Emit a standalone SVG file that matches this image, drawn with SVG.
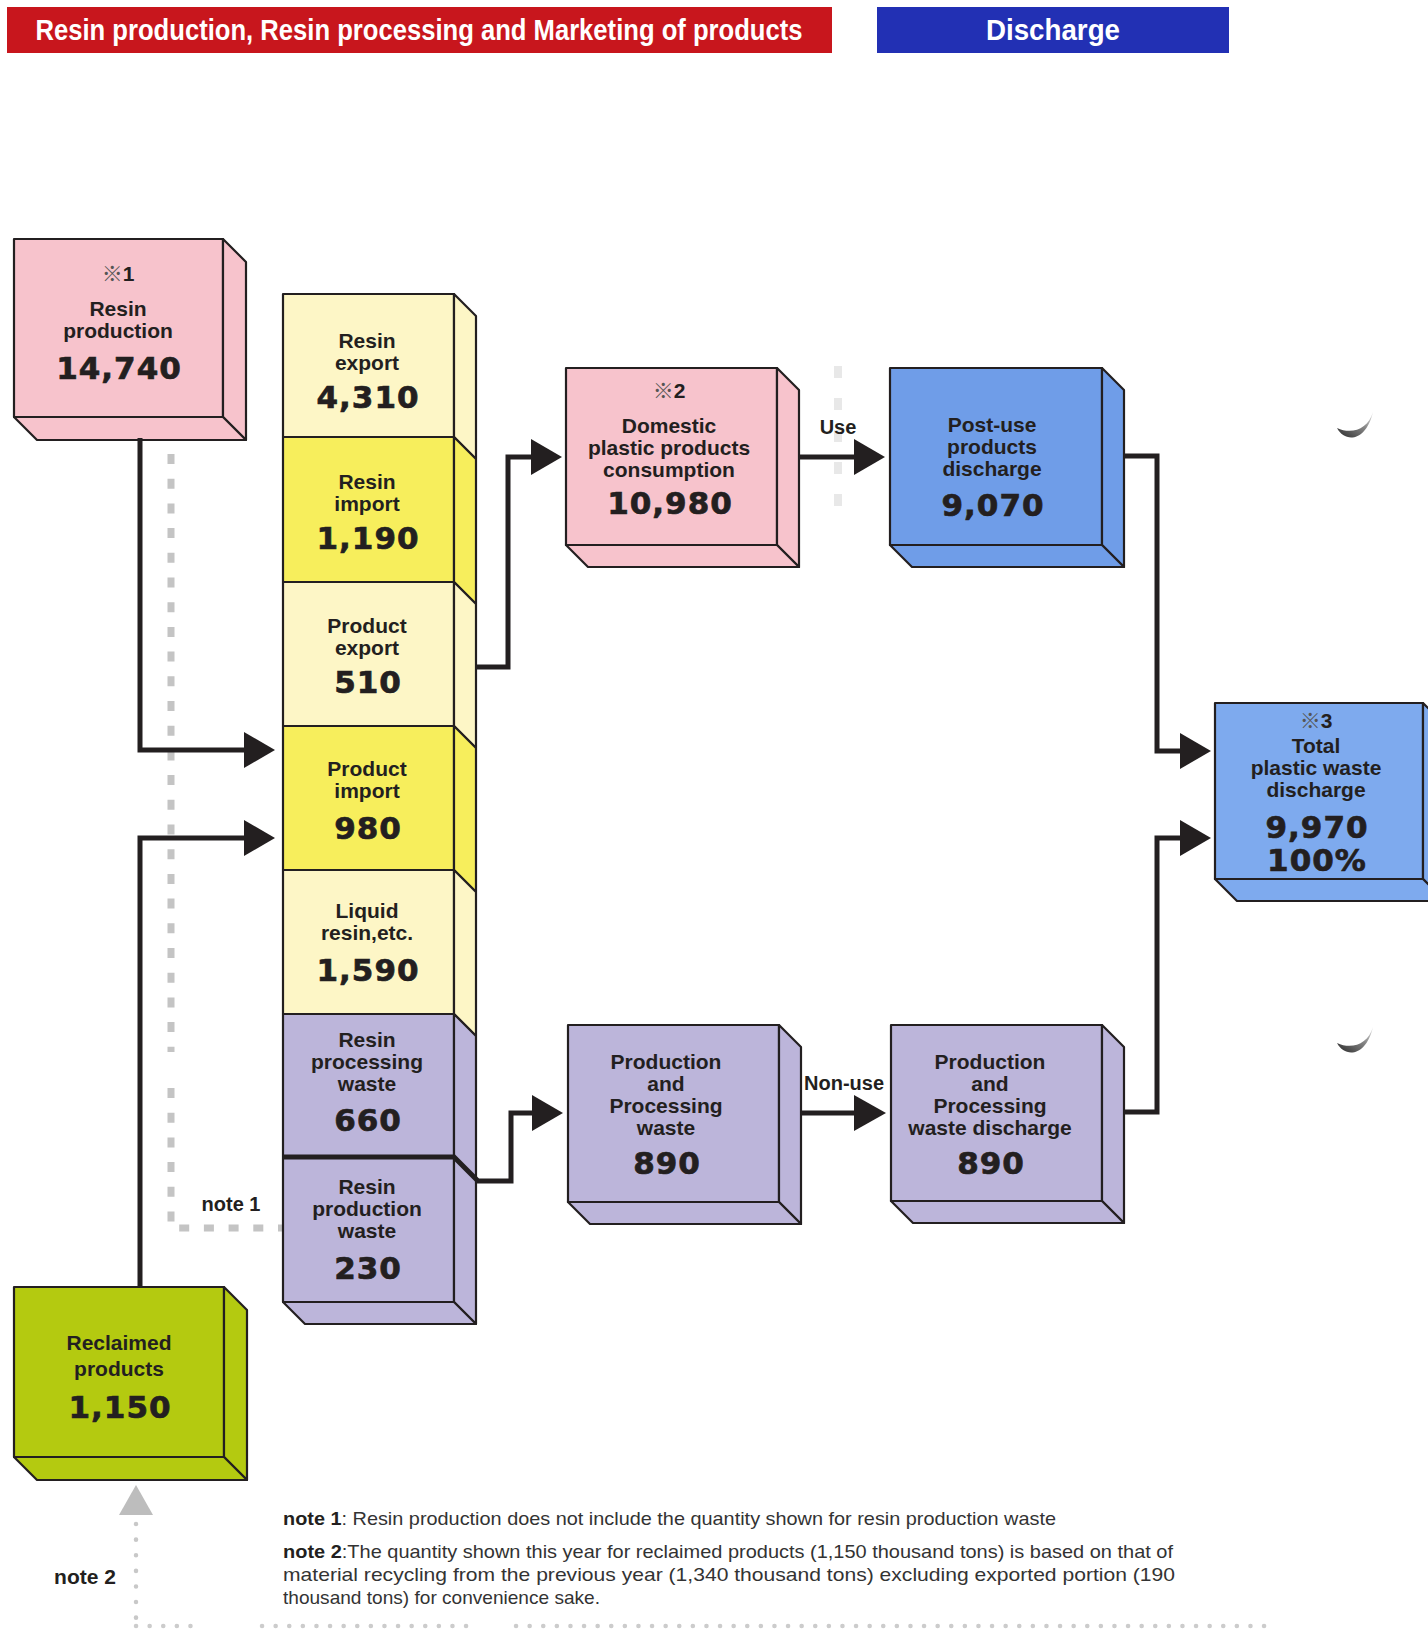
<svg xmlns="http://www.w3.org/2000/svg" width="1428" height="1631" viewBox="0 0 1428 1631">
<defs>
<style>
.hdr{font-family:"Liberation Sans",Arial,sans-serif;font-weight:700;font-size:30px;fill:#ffffff;text-anchor:middle}
.lbl{font-family:"Liberation Sans",Arial,sans-serif;font-weight:700;font-size:21px;fill:#231f20;text-anchor:middle}
.num{font-family:"DejaVu Sans",sans-serif;font-weight:700;font-size:31px;fill:#231f20;stroke:#231f20;stroke-width:0.7;letter-spacing:1px;text-anchor:middle}
.mk{font-family:"Noto Sans CJK JP",sans-serif;font-weight:400;fill:#555}
.face{stroke:#231f20;stroke-width:2.2;stroke-linejoin:round}
.pink{fill:#f7c3cc}
.pale{fill:#fdf6c6}
.yel{fill:#f7ee5c}
.lav{fill:#bcb5da}
.blue1{fill:#6f9de8}
.blue2{fill:#7eaaee}
.green{fill:#b4ca10}
.conn{fill:none;stroke:#231f20;stroke-width:5;stroke-linejoin:miter}
.head{fill:#231f20}
.flow{font-family:"Liberation Sans",Arial,sans-serif;font-weight:700;font-size:20px;fill:#231f20;text-anchor:middle}
.note{font-family:"Liberation Sans",Arial,sans-serif;font-size:19px;fill:#333}
.nb{font-weight:700;fill:#231f20}
</style>
<linearGradient id="moon" x1="0" y1="1" x2="1" y2="0">
<stop offset="0" stop-color="#2a2a2a"/>
<stop offset="0.6" stop-color="#8a8a8a"/>
<stop offset="1" stop-color="#e6e6e6"/>
</linearGradient>
</defs>

<!-- Headers -->
<g id="header-left">
<rect x="7" y="7" width="825" height="46" fill="#c8161d"/>
<text class="hdr" x="419" y="40" textLength="767" lengthAdjust="spacingAndGlyphs">Resin production, Resin processing and Marketing of products</text>
</g>
<g id="header-right">
<rect x="877" y="7" width="352" height="46" fill="#2230b4"/>
<text class="hdr" x="1053" y="40" textLength="134" lengthAdjust="spacingAndGlyphs">Discharge</text>
</g>

<!-- background guide lines -->
<g id="guides">
<path d="M171,454 V1052 M171,1088 V1228 H283" fill="none" stroke="#c4c4c4" stroke-width="7" stroke-dasharray="10 14.7"/>
<path d="M838,366 V526" fill="none" stroke="#e8e8e8" stroke-width="8" stroke-dasharray="12 20"/>
<path d="M136,1524 V1622" fill="none" stroke="#c8c8c8" stroke-width="4.5" stroke-linecap="round" stroke-dasharray="0.1 15.5"/>
<path d="M136,1626 H192 M262,1626 H478 M516,1626 H1271" fill="none" stroke="#cccccc" stroke-width="4.5" stroke-linecap="round" stroke-dasharray="0.1 13.5"/>
<polygon points="136,1485 119,1515 153,1515" fill="#bdbdbd"/>
<path d="M1337,428 C1345,443 1366,442 1373,412 C1368,429 1352,435 1337,428 Z" fill="url(#moon)"/>
<path d="M1337,1043 C1345,1058 1366,1057 1373,1027 C1368,1044 1352,1050 1337,1043 Z" fill="url(#moon)"/>
</g>

<!-- Nodes -->
<g id="resin-production">
<rect class="face pink" x="14" y="239" width="209" height="178"/>
<polygon class="face pink" points="223,239 246,262 246,440 223,417"/>
<polygon class="face pink" points="14,417 223,417 246,440 37,440"/>
<text class="lbl" x="118" y="281"><tspan class="mk">※</tspan>1</text>
<text class="lbl" x="118" y="316">Resin</text>
<text class="lbl" x="118" y="338">production</text>
<text class="num" x="119" y="379">14,740</text>
</g>

<g id="resin-export">
<rect class="face pale" x="283" y="294" width="171" height="143"/>
<polygon class="face pale" points="454,294 476,316 476,459 454,437"/>
<text class="lbl" x="367" y="348">Resin</text>
<text class="lbl" x="367" y="370">export</text>
<text class="num" x="368" y="408">4,310</text>
</g>
<g id="resin-import">
<rect class="face yel" x="283" y="437" width="171" height="145"/>
<polygon class="face yel" points="454,437 476,459 476,604 454,582"/>
<text class="lbl" x="367" y="489">Resin</text>
<text class="lbl" x="367" y="511">import</text>
<text class="num" x="368" y="549">1,190</text>
</g>
<g id="product-export">
<rect class="face pale" x="283" y="582" width="171" height="144"/>
<polygon class="face pale" points="454,582 476,604 476,748 454,726"/>
<text class="lbl" x="367" y="633">Product</text>
<text class="lbl" x="367" y="655">export</text>
<text class="num" x="368" y="693">510</text>
</g>
<g id="product-import">
<rect class="face yel" x="283" y="726" width="171" height="144"/>
<polygon class="face yel" points="454,726 476,748 476,892 454,870"/>
<text class="lbl" x="367" y="776">Product</text>
<text class="lbl" x="367" y="798">import</text>
<text class="num" x="368" y="839">980</text>
</g>
<g id="liquid-resin">
<rect class="face pale" x="283" y="870" width="171" height="144"/>
<polygon class="face pale" points="454,870 476,892 476,1036 454,1014"/>
<text class="lbl" x="367" y="918">Liquid</text>
<text class="lbl" x="367" y="940">resin,etc.</text>
<text class="num" x="368" y="981">1,590</text>
</g>
<g id="resin-processing-waste">
<rect class="face lav" x="283" y="1014" width="171" height="143"/>
<polygon class="face lav" points="454,1014 476,1036 476,1179 454,1157"/>
<text class="lbl" x="367" y="1047">Resin</text>
<text class="lbl" x="367" y="1069">processing</text>
<text class="lbl" x="367" y="1091">waste</text>
<text class="num" x="368" y="1131">660</text>
</g>
<g id="resin-production-waste">
<rect class="face lav" x="283" y="1157" width="171" height="145"/>
<polygon class="face lav" points="454,1157 476,1179 476,1324 454,1302"/>
<polygon class="face lav" points="283,1302 454,1302 476,1324 305,1324"/>
<text class="lbl" x="367" y="1194">Resin</text>
<text class="lbl" x="367" y="1216">production</text>
<text class="lbl" x="367" y="1238">waste</text>
<text class="num" x="368" y="1279">230</text>
</g>

<g id="domestic-consumption">
<rect class="face pink" x="566" y="368" width="211" height="177"/>
<polygon class="face pink" points="777,368 799,390 799,567 777,545"/>
<polygon class="face pink" points="566,545 777,545 799,567 588,567"/>
<text class="lbl" x="669" y="398"><tspan class="mk">※</tspan>2</text>
<text class="lbl" x="669" y="433">Domestic</text>
<text class="lbl" x="669" y="455">plastic products</text>
<text class="lbl" x="669" y="477">consumption</text>
<text class="num" x="670" y="514">10,980</text>
</g>

<g id="post-use-discharge">
<rect class="face blue1" x="890" y="368" width="212" height="177"/>
<polygon class="face blue1" points="1102,368 1124,390 1124,567 1102,545"/>
<polygon class="face blue1" points="890,545 1102,545 1124,567 912,567"/>
<text class="lbl" x="992" y="432">Post-use</text>
<text class="lbl" x="992" y="454">products</text>
<text class="lbl" x="992" y="476">discharge</text>
<text class="num" x="993" y="516">9,070</text>
</g>

<g id="total-discharge">
<rect class="face blue2" x="1215" y="703" width="208" height="176"/>
<polygon class="face blue2" points="1423,703 1445,725 1445,901 1423,879"/>
<polygon class="face blue2" points="1215,879 1423,879 1445,901 1237,901"/>
<text class="lbl" x="1316" y="728"><tspan class="mk">※</tspan>3</text>
<text class="lbl" x="1316" y="753">Total</text>
<text class="lbl" x="1316" y="775">plastic waste</text>
<text class="lbl" x="1316" y="797">discharge</text>
<text class="num" x="1317" y="838">9,970</text>
<text class="num" x="1317" y="871">100%</text>
</g>

<g id="pp-waste">
<rect class="face lav" x="568" y="1025" width="211" height="177"/>
<polygon class="face lav" points="779,1025 801,1047 801,1224 779,1202"/>
<polygon class="face lav" points="568,1202 779,1202 801,1224 590,1224"/>
<text class="lbl" x="666" y="1069">Production</text>
<text class="lbl" x="666" y="1091">and</text>
<text class="lbl" x="666" y="1113">Processing</text>
<text class="lbl" x="666" y="1135">waste</text>
<text class="num" x="667" y="1174">890</text>
</g>

<g id="pp-waste-discharge">
<rect class="face lav" x="891" y="1025" width="211" height="176"/>
<polygon class="face lav" points="1102,1025 1124,1047 1124,1223 1102,1201"/>
<polygon class="face lav" points="891,1201 1102,1201 1124,1223 913,1223"/>
<text class="lbl" x="990" y="1069">Production</text>
<text class="lbl" x="990" y="1091">and</text>
<text class="lbl" x="990" y="1113">Processing</text>
<text class="lbl" x="990" y="1135">waste discharge</text>
<text class="num" x="991" y="1174">890</text>
</g>

<g id="reclaimed-products">
<rect class="face green" x="14" y="1287" width="210" height="170"/>
<polygon class="face green" points="224,1287 247,1310 247,1480 224,1457"/>
<polygon class="face green" points="14,1457 224,1457 247,1480 37,1480"/>
<text class="lbl" x="119" y="1350">Reclaimed</text>
<text class="lbl" x="119" y="1376">products</text>
<text class="num" x="120" y="1418">1,150</text>
</g>

<!-- Connectors -->
<g id="connectors">
<path class="conn" d="M140,438 V750 H247"/>
<polygon class="head" points="244,732 275,750 244,768"/>
<path class="conn" d="M140,1287 V838 H247"/>
<polygon class="head" points="244,820 275,838 244,856"/>
<path class="conn" d="M476,667 H508 V457 H534"/>
<polygon class="head" points="531,439 562,457 531,475"/>
<path class="conn" d="M799,457 H857"/>
<polygon class="head" points="854,439 885,457 854,475"/>
<path class="conn" d="M1124,456 H1157 V751 H1183"/>
<polygon class="head" points="1180,733 1211,751 1180,769"/>
<path class="conn" d="M1124,1112 H1157 V838 H1183"/>
<polygon class="head" points="1180,820 1211,838 1180,856"/>
<path class="conn" d="M283,1157 H454 L478,1181 H511 V1113 H535"/>
<polygon class="head" points="532,1095 563,1113 532,1131"/>
<path class="conn" d="M801,1113 H857"/>
<polygon class="head" points="854,1095 886,1113 854,1131"/>
<text class="flow" x="838" y="434">Use</text>
<text class="flow" x="844" y="1090">Non-use</text>
</g>

<!-- Notes -->
<g id="notes">
<text class="flow" x="231" y="1211">note 1</text>
<text class="flow" x="85" y="1584" style="font-size:21px">note 2</text>
<text class="note" x="283" y="1525" textLength="773" lengthAdjust="spacingAndGlyphs"><tspan class="nb">note 1</tspan>: Resin production does not include the quantity shown for resin production waste</text>
<text class="note" x="283" y="1558" textLength="890" lengthAdjust="spacingAndGlyphs"><tspan class="nb">note 2</tspan>:The quantity shown this year for reclaimed products (1,150 thousand tons) is based on that of</text>
<text class="note" x="283" y="1581" textLength="892" lengthAdjust="spacingAndGlyphs">material recycling from the previous year (1,340 thousand tons) excluding exported portion (190</text>
<text class="note" x="283" y="1604" textLength="317" lengthAdjust="spacingAndGlyphs">thousand tons) for convenience sake.</text>
</g>
</svg>
